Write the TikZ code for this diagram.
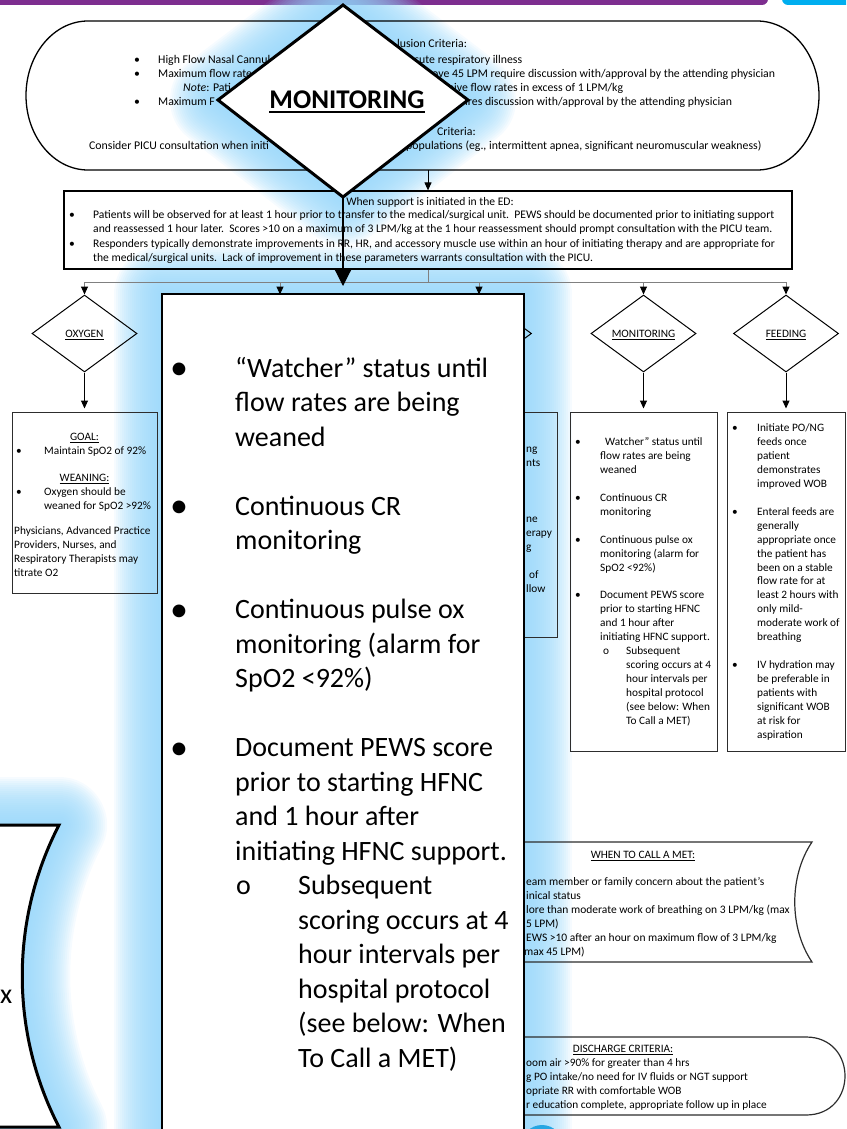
\documentclass[tikz,border=0pt]{standalone}
\usepackage{fontspec}
\setmainfont{Carlito}
\usetikzlibrary{arrows.meta,shapes.geometric}

\definecolor{glowblue}{RGB}{150,214,250}
\definecolor{barpurple}{RGB}{125,46,143}
\definecolor{barcyan}{RGB}{0,174,239}
\definecolor{dotcyan}{RGB}{38,166,226}
\definecolor{boxedge}{RGB}{45,45,45}
\definecolor{railgray}{RGB}{128,128,128}

\newcommand\bu[1]{\makebox[#1][l]{\textbullet}}
\newcommand\bigbu[1]{\makebox[#1][l]{\raisebox{-2.7pt}{\fontsize{36}{36}\selectfont\textbullet}}}
\newcommand\hind[1]{\hspace*{#1}}
\newcommand\txtlines[1]{\parbox[t]{800pt}{\raggedright #1}}

\tikzset{
  txtS/.style={font=\fontsize{11.8}{14}\selectfont, inner sep=0pt},
  txtE/.style={font=\fontsize{11.6}{14.3}\selectfont, inner sep=0pt},
  txtM/.style={font=\fontsize{11.3}{13.95}\selectfont, inner sep=0pt},
  txtL/.style={font=\fontsize{28}{34.5}\selectfont, inner sep=0pt},
  flowbox/.style={draw=boxedge, line width=1pt, inner sep=0pt},
  decision/.style={diamond, draw=black, line width=1pt, inner sep=0pt, minimum width=105pt, minimum height=77pt},
  arrowend/.style={-{Triangle[length=8pt,width=7pt,color=black]}},
  rail/.style={draw=railgray, line width=1pt},
  halo/.style={glowblue, opacity=0.085, line join=round},
  bigdiamond/.style={insert path={(343,5) -- (468,100) -- (343,197) -- (218,100) -- cycle}},
  bigbox/.style={insert path={(162,294) rectangle (524,1180)}},
  leftshape/.style={insert path={(-30,825) -- (59,825) .. controls (10,920) and (10,1032) .. (59,1127) -- (-30,1127)}},
}

\begin{document}
\begin{tikzpicture}[x=1pt,y=-1pt]
\useasboundingbox (0,0) rectangle (846,1129);
\clip (0,0) rectangle (846,1129);

% header strips
\fill[barpurple, rounded corners=6pt] (-20,-20) rectangle (768,5);
\fill[barcyan, rounded corners=6pt] (782,-20) rectangle (880,5);

% soft halo around the magnified call-outs
\foreach \w in {4,8,...,96}{
  \draw[halo, line width=\w pt, bigdiamond];
  \draw[halo, line width=\w pt, bigbox];
  \draw[halo, line width=\w pt, leftshape];
}

% ---------- inclusion / exclusion pill ----------
\draw[line width=1.3pt] (88,21) -- (757,21)
  arc[start angle=-90,end angle=90,x radius=62,y radius=74.5] -- (88,170)
  arc[start angle=90,end angle=270,x radius=62,y radius=74.5] -- cycle;
\coordinate (pillS) at (428,170);

\node[txtS, anchor=base west] (pillA) at (134,63.5) {\txtlines{\bu{24pt}High Flow Nasal Cannul\\ \bu{24pt}Maximum flow rate\\ \hind{49pt}\textit{Note}: Pati\\ \bu{24pt}Maximum F}};
\node[txtS, anchor=base west] (inclT) at (397,47.5) {lusion Criteria:};
\node[txtS, anchor=base west] (pillB1) at (414,63.5) {cute respiratory illness};
\node[txtS, anchor=base west] (pillB2) at (432,77.5) {ove 45 LPM require discussion with/approval by the attending physician};
\node[txtS, anchor=base west] (pillB3) at (448,91.5) {eive flow rates in excess of 1 LPM/kg};
\node[txtS, anchor=base west] (pillB4) at (465,105.5) {ires discussion with/approval by the attending physician};
\node[txtS, anchor=base west] (exclT) at (437,135.5) {Criteria:};
\node[txtS, anchor=base west] (pillC1) at (89,149.5) {Consider PICU consultation when initi};
\node[txtS, anchor=base west] (pillC2) at (406,149.5) {populations (eg., intermittent apnea, significant neuromuscular weakness)};

% ---------- ED box ----------
\node[draw=black, line width=1.2pt, minimum width=728pt, minimum height=78pt, inner sep=0pt] (edbox) at (428,230) {};
\node[txtE, anchor=base] (edT) at (430,205.5) {When support is initiated in the ED:};
\node[txtE, anchor=base west] (edL) at (69,218.5) {\txtlines{%
\bu{24pt}Patients will be observed for at least 1 hour prior to transfer to the medical/surgical unit.\ \ PEWS should be documented prior to initiating support\\
\hind{24pt}and reassessed 1 hour later.\ \ Scores >10 on a maximum of 3 LPM/kg at the 1 hour reassessment should prompt consultation with the PICU team.\\
\bu{24pt}Responders typically demonstrate improvements in RR, HR, and accessory muscle use within an hour of initiating therapy and are appropriate for\\
\hind{24pt}the medical/surgical units.\ \ Lack of improvement in these parameters warrants consultation with the PICU.}};

\draw[arrowend, line width=1pt] (pillS) -- (edbox.north);

% ---------- distribution rail ----------
\coordinate (railL) at (84.5,282);
\coordinate (railR) at (786,282);
\draw[rail] (edbox.south) -- (edbox.south |- railL);
\draw[rail] (railL) -- (railR);

\node[decision] (dOxy) at (84.5,333.5) {};
\node[decision] (dCol2) at (280,333.5) {};
\node[decision] (dCol3) at (479,333.5) {};
\node[decision] (dMon) at (643.5,333.5) {};
\node[decision] (dFeed) at (786,333.5) {};

\foreach \d in {dOxy,dCol2,dCol3,dMon,dFeed}{
  \draw[rail, arrowend] (\d.north |- railL) -- (\d.north);
}

\node[txtM, anchor=base] (lOxy) at (84.5,337.5) {\underline{OXYGEN}};
\node[txtM, anchor=base] (lMon) at (643.5,337.5) {\underline{MONITORING}};
\node[txtM, anchor=base] (lFeed) at (786,337.5) {\underline{FEEDING}};

% ---------- column boxes ----------
\node[flowbox, minimum width=145pt, minimum height=181pt] (bOxy) at (84.5,502.5) {};
\node[flowbox, minimum width=146pt, minimum height=225pt] (bCol2) at (280,524.5) {};
\node[flowbox, minimum width=156pt, minimum height=225pt] (bCol3) at (479,524.5) {};
\node[flowbox, minimum width=147pt, minimum height=339pt] (bMon) at (643.5,581.5) {};
\node[flowbox, minimum width=118pt, minimum height=339pt] (bFeed) at (786,581.5) {};

\foreach \d/\b in {dOxy/bOxy,dCol2/bCol2,dCol3/bCol3,dMon/bMon,dFeed/bFeed}{
  \draw[arrowend, line width=1pt, shorten >=3pt] (\d.south) -- (\b.north);
}

% oxygen box
\node[txtM, anchor=base] (oxGoal) at (84.5,440.5) {\underline{GOAL:}};
\node[txtM, anchor=base west] (oxGoalB) at (16,454.5) {\txtlines{\bu{28pt}Maintain SpO2 of 92\%}};
\node[txtM, anchor=base] (oxWean) at (84.5,481.5) {\underline{WEANING:}};
\node[txtM, anchor=base west] (oxWeanB) at (16,495.5) {\txtlines{\bu{28pt}Oxygen should be\\ \hind{28pt}weaned for SpO2 >92\%}};
\node[txtM, anchor=base west] (oxNote) at (14,534.5) {\txtlines{Physicians, Advanced Practice\\ Providers, Nurses, and\\ Respiratory Therapists may\\ titrate O2}};

% third column, visible edge only
\node[txtM, anchor=base west] (c3txt) at (526,452.5) {\txtlines{ng\\ nts\\[41.85pt] ne\\ erapy\\ g\\[13.95pt] \hind{3pt}of\\ llow}};

% monitoring box
\node[txtM, anchor=base west] (monTxt) at (575,445.5) {\txtlines{%
\bu{25pt}\hspace{5pt}Watcher” status until\\ \hind{25pt}flow rates are being\\ \hind{25pt}weaned\\[13.95pt]
\bu{25pt}Continuous CR\\ \hind{25pt}monitoring\\[13.95pt]
\bu{25pt}Continuous pulse ox\\ \hind{25pt}monitoring (alarm for\\ \hind{25pt}SpO2 <92\%)\\[13.95pt]
\bu{25pt}Document PEWS score\\ \hind{25pt}prior to starting HFNC\\ \hind{25pt}and 1 hour after\\ \hind{25pt}initiating HFNC support.\\
\hind{28pt}\makebox[23pt][l]{o}Subsequent\\ \hind{51pt}scoring occurs at 4\\ \hind{51pt}hour intervals per\\ \hind{51pt}hospital protocol\\ \hind{51pt}(see below: When\\ \hind{51pt}To Call a MET)}};

% feeding box
\node[txtM, anchor=base west] (feedTxt) at (732,431.5) {\txtlines{%
\bu{25pt}Initiate PO/NG\\ \hind{25pt}feeds once\\ \hind{25pt}patient\\ \hind{25pt}demonstrates\\ \hind{25pt}improved WOB\\[13.95pt]
\bu{25pt}Enteral feeds are\\ \hind{25pt}generally\\ \hind{25pt}appropriate once\\ \hind{25pt}the patient has\\ \hind{25pt}been on a stable\\ \hind{25pt}flow rate for at\\ \hind{25pt}least 2 hours with\\ \hind{25pt}only mild-\\ \hind{25pt}moderate work of\\ \hind{25pt}breathing\\[13.95pt]
\bu{25pt}IV hydration may\\ \hind{25pt}be preferable in\\ \hind{25pt}patients with\\ \hind{25pt}significant WOB\\ \hind{25pt}at risk for\\ \hind{25pt}aspiration}};

% ---------- when to call a MET ----------
\draw[line width=1.2pt, draw=boxedge] (470,842) -- (812,842) .. controls (789,876) and (789,928) .. (812,962) -- (470,962);
\node[txtM, anchor=base] (metT) at (643,858.5) {\underline{WHEN TO CALL A MET:}};
\node[txtM, font=\fontsize{11.5}{13.95}\selectfont, anchor=base west] (metTxt) at (526,885.5) {\txtlines{eam member or family concern about the patient’s\\ inical status\\ lore than moderate work of breathing on 3 LPM/kg (max\\ 5 LPM)\\ EWS >10 after an hour on maximum flow of 3 LPM/kg\\ \hind{-2pt}max 45 LPM)}};

% ---------- discharge criteria ----------
\draw[line width=1.2pt, draw=boxedge] (470,1037) -- (806,1037) .. controls (858,1037) and (858,1115) .. (806,1115) -- (470,1115);
\node[txtM, anchor=base] (disT) at (623,1052.5) {\underline{DISCHARGE CRITERIA:}};
\node[txtM, anchor=base west] (disTxt) at (526,1066.5) {\txtlines{oom air >90\% for greater than 4 hrs\\ g PO intake/no need for IV fluids or NGT support\\ opriate RR with comfortable WOB\\ r education complete, appropriate follow up in place}};

% ---------- magnified call-outs ----------
\coordinate (bigDiaS) at (343,197);
\coordinate (bigBoxN) at (343,294);
\draw[line width=1.2pt, -{Triangle[length=17pt,width=17pt]}, shorten >=8pt] (bigDiaS) -- (bigBoxN);

\draw[fill=white, line width=2.5pt, bigbox];
\draw[fill=white, line width=3pt, leftshape];
\draw[fill=white, line width=3pt, line join=miter, bigdiamond];

\node[font=\bfseries\fontsize{27}{30}\selectfont, inner sep=0pt, anchor=base] (bigLbl) at (347,108.5) {MONITORING};
\draw[line width=2pt] ([yshift=-3.5pt]bigLbl.base west) -- ([yshift=-3.5pt]bigLbl.base east);

\node[txtL, anchor=base west] (bigTxt) at (170,377) {\txtlines{%
\bigbu{65pt}“Watcher” status until\\ \hind{65pt}flow rates are being\\ \hind{65pt}weaned\\[34.5pt]
\bigbu{65pt}Continuous CR\\ \hind{65pt}monitoring\\[34.5pt]
\bigbu{65pt}Continuous pulse ox\\ \hind{65pt}monitoring (alarm for\\ \hind{65pt}SpO2 <92\%)\\[34.5pt]
\bigbu{65pt}Document PEWS score\\ \hind{65pt}prior to starting HFNC\\ \hind{65pt}and 1 hour after\\ \hind{65pt}initiating HFNC support.\\
\hind{66pt}\makebox[62pt][l]{o}Subsequent\\ \hind{128pt}scoring occurs at 4\\ \hind{128pt}hour intervals per\\ \hind{128pt}hospital protocol\\ \hind{128pt}(see below: When\\ \hind{128pt}To Call a MET)}};

\node[txtL, anchor=base west] (leftX) at (0,1003) {x};

\node[circle, fill=dotcyan, minimum size=42pt, inner sep=0pt] (navDot) at (542,1146) {};

\end{tikzpicture}
\end{document}
